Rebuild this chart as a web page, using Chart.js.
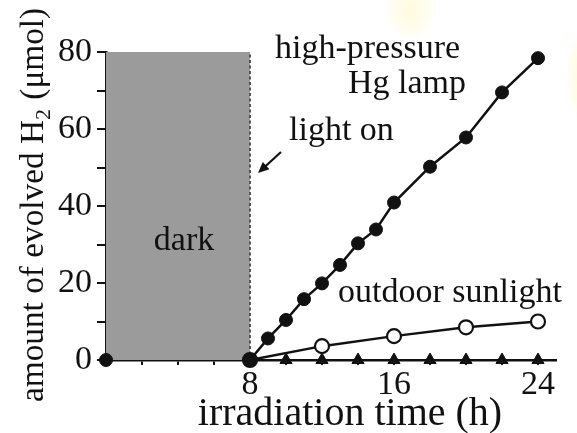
<!DOCTYPE html>
<html>
<head>
<meta charset="utf-8">
<script src="https://cdn.jsdelivr.net/npm/chart.js@4/dist/chart.umd.min.js"></script>
<style>
  html,body{margin:0;padding:0;background:#fff;}
  #wrap{width:577px;height:433px;}
</style>
</head>
<body>
<div id="wrap"><canvas id="c" width="577" height="433"></canvas></div>
<script>
// ---- data ----
const hgHours   = [8, 9, 10, 11, 12, 13, 14, 15, 16, 18, 20, 22, 24];
const hgH2      = [0, 5.6, 10.4, 15.8, 19.9, 24.7, 30.3, 33.9, 40.9, 50.2, 57.8, 69.5, 78.4];
const darkHours = [0];
const darkH2    = [0];
const sunHours  = [8, 12, 16, 20, 24];
const sunH2     = [0, 3.6, 6.2, 8.5, 10.0];
const ctrlHours = [10, 12, 14, 16, 18, 20, 22, 24];
const ctrlH2    = [0, 0, 0, 0, 0, 0, 0, 0];
const darkPeriod = [0, 8];      // hours without light
const yTop = 80;
const xTickLabels = [8, 16, 24];
const yTickLabels = [0, 20, 40, 60, 80];

const SERIF = '"Liberation Serif", "Times New Roman", serif';
const INK = '#111';

const pts = (xs, ys) => xs.map((x, i) => ({x, y: ys[i]}));

const backdrop = {
  id: 'backdrop',
  beforeDraw(chart) {
    const ctx = chart.ctx;
    ctx.save();
    ctx.fillStyle = '#fff';
    ctx.fillRect(0, 0, chart.width, chart.height);
    const blob = (cx, cy, rx, ry) => {
      ctx.save();
      ctx.translate(cx, cy);
      ctx.scale(rx, ry);
      const g = ctx.createRadialGradient(0, 0, 0, 0, 0, 1);
      g.addColorStop(0, 'rgba(255,246,180,0.45)');
      g.addColorStop(0.6, 'rgba(255,248,195,0.28)');
      g.addColorStop(1, 'rgba(255,250,215,0)');
      ctx.fillStyle = g;
      ctx.beginPath(); ctx.arc(0, 0, 1, 0, Math.PI * 2); ctx.fill();
      ctx.restore();
    };
    blob(410, 10, 28, 32);
    blob(580, 75, 16, 48);
    ctx.restore();
  }
};

const annotate = {
  id: 'annotate',
  afterDraw(chart) {
    const ctx = chart.ctx;
    const xs = chart.scales.x;
    ctx.save();
    ctx.fillStyle = INK;
    ctx.textBaseline = 'alphabetic';
    ctx.font = '34px ' + SERIF;
    ctx.textAlign = 'left';
    ctx.fillText('high-pressure', 275, 58);
    ctx.textAlign = 'right';
    ctx.fillText('Hg lamp', 466, 93);
    ctx.textAlign = 'left';
    ctx.fillText('light on', 289, 140);
    ctx.fillText('outdoor sunlight', 338, 302);
    ctx.textAlign = 'center';
    ctx.fillText('dark', (xs.getPixelForValue(darkPeriod[0]) + xs.getPixelForValue(darkPeriod[1])) / 2 + 6, 250);

    // arrow "light on"
    ctx.strokeStyle = INK; ctx.lineWidth = 2.2;
    const tx = 258, ty = 173, fx = 281, fy = 152;
    const ang = Math.atan2(ty - fy, tx - fx);
    ctx.beginPath();
    ctx.moveTo(fx, fy);
    ctx.lineTo(tx - 6 * Math.cos(ang), ty - 6 * Math.sin(ang));
    ctx.stroke();
    ctx.beginPath();
    ctx.moveTo(tx, ty);
    ctx.lineTo(tx - 11 * Math.cos(ang) + 5 * Math.sin(ang), ty - 11 * Math.sin(ang) - 5 * Math.cos(ang));
    ctx.lineTo(tx - 11 * Math.cos(ang) - 5 * Math.sin(ang), ty - 11 * Math.sin(ang) + 5 * Math.cos(ang));
    ctx.closePath();
    ctx.fill();

    // x axis title
    ctx.font = '40px ' + SERIF;
    ctx.textAlign = 'center';
    ctx.fillText('irradiation time (h)', 350, 425);

    // y axis title with subscript
    ctx.translate(43, 402);
    ctx.rotate(-Math.PI / 2);
    ctx.textAlign = 'left';
    const big = '33.3px ' + SERIF, small = '22px ' + SERIF;
    ctx.font = big;
    let p = 0;
    const s1 = 'amount of evolved H';
    ctx.fillText(s1, p, 0); p += ctx.measureText(s1).width;
    ctx.font = small;
    ctx.fillText('2', p, 7); p += ctx.measureText('2').width + 1;
    ctx.font = big;
    ctx.fillText(' (\u03bcmol)', p, 0);
    ctx.restore();
  }
};

new Chart(document.getElementById('c'), {
  type: 'line',
  data: {
    datasets: [
      { // Hg lamp
        data: pts(hgHours, hgH2), borderColor: INK, borderWidth: 2.5,
        pointStyle: 'circle', pointRadius: 6.5, pointBackgroundColor: INK, pointBorderColor: INK,
        pointBorderWidth: 1, fill: false, tension: 0, clip: false, order: 1
      },
      { // dark point
        data: pts(darkHours, darkH2), showLine: false,
        pointStyle: 'circle', pointRadius: 6.5, pointBackgroundColor: INK, pointBorderColor: INK,
        fill: false, clip: false, order: 1
      },
      { // outdoor sunlight
        data: pts(sunHours, sunH2), borderColor: INK, borderWidth: 2.5,
        pointStyle: 'circle', pointRadius: 7, pointBackgroundColor: '#fff', pointBorderColor: INK,
        pointBorderWidth: 2.2, fill: false, tension: 0, clip: false, order: 2
      },
      { // control (triangles)
        data: pts(ctrlHours, ctrlH2), showLine: false,
        pointStyle: 'triangle', pointRadius: 7, pointBackgroundColor: INK, pointBorderColor: INK,
        fill: false, clip: false, order: 3
      },
      { // light-on dashed line
        data: [{x: darkPeriod[1], y: 0}, {x: darkPeriod[1], y: yTop}],
        borderColor: '#555', borderWidth: 2, borderDash: [3, 2.5], pointRadius: 0,
        fill: false, order: 9
      },
      { // dark period shading
        data: [{x: darkPeriod[0], y: yTop}, {x: darkPeriod[1], y: yTop}],
        borderWidth: 0, borderColor: 'rgba(0,0,0,0)', pointRadius: 0,
        backgroundColor: '#9b9b9b', fill: 'origin', order: 10
      }
    ]
  },
  options: {
    responsive: false, animation: false, devicePixelRatio: 1,
    layout: {padding: {left: 0, right: 21, top: 52, bottom: 0}},
    plugins: {legend: {display: false}, tooltip: {enabled: false}},
    scales: {
      x: {
        type: 'linear', min: 0, max: 25, z: 0,
        afterFit(s) { s.height = 73; },
        ticks: {
          stepSize: 2, includeBounds: false, autoSkip: false, maxRotation: 0,
          callback: v => xTickLabels.includes(v) ? String(v) : '',
          font: {family: SERIF, size: 34}, color: INK, padding: 0
        },
        grid: {drawOnChartArea: false, drawTicks: true, tickLength: 5, color: INK, lineWidth: 2},
        border: {color: INK, width: 2.5}
      },
      y: {
        type: 'linear', min: 0, max: yTop, z: 1,
        afterFit(s) { s.width = 106; },
        ticks: {
          stepSize: 10, includeBounds: false, autoSkip: false,
          callback: v => yTickLabels.includes(v) ? String(v) : '',
          font: {family: SERIF, size: 34}, color: INK, padding: 5
        },
        grid: {drawOnChartArea: false, drawTicks: true, tickLength: 9, color: INK, lineWidth: 2},
        border: {color: INK, width: 2.5}
      }
    }
  },
  plugins: [backdrop, annotate]
});
</script>
</body>
</html>
